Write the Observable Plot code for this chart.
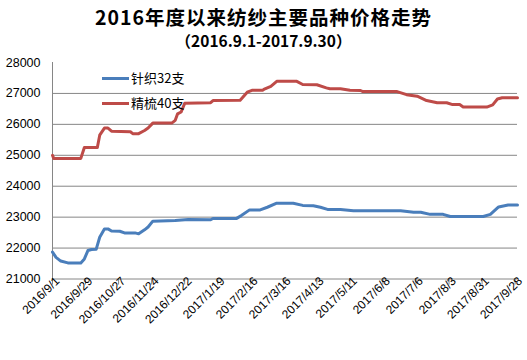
<!DOCTYPE html>
<html>
<head>
<meta charset="utf-8">
<script src="https://cdn.jsdelivr.net/npm/d3@7"></script>
<script src="https://cdn.jsdelivr.net/npm/@observablehq/plot@0.6"></script>
<style>
  body { margin: 0; background: #fff; }
  #wrap { width: 527px; height: 360px; background: #fff; overflow: hidden; }
  .title { font-family: "Noto Sans CJK SC", sans-serif; font-weight: bold; text-align: center; color: #000; white-space: nowrap; }
  #t1 { font-size: 19.5px; letter-spacing: 1px; line-height: 24px; padding-top: 5px; height: 24px; }
  #t2 { font-size: 15.5px; line-height: 22px; height: 25px; }
</style>
</head>
<body>
<div id="wrap">
  <div class="title" id="t1">2016年度以来纺纱主要品种价格走势</div>
  <div class="title" id="t2">（2016.9.1-2017.9.30）</div>
  <div id="chart"></div>
</div>
<script>
const seriesNames = ["针织32支", "精梳40支"];
const seriesColors = ["#4A7EBB", "#BE4B48"];

const knitDates = ["2016/9/1","2016/9/4","2016/9/8","2016/9/14","2016/9/25","2016/9/28","2016/10/1","2016/10/4","2016/10/8","2016/10/11","2016/10/15","2016/10/18","2016/10/21","2016/10/28","2016/11/1","2016/11/10","2016/11/13","2016/11/18","2016/11/21","2016/11/25","2016/12/14","2016/12/25","2017/1/13","2017/1/15","2017/2/4","2017/2/8","2017/2/15","2017/2/24","2017/3/2","2017/3/10","2017/3/24","2017/4/1","2017/4/10","2017/4/16","2017/4/22","2017/5/3","2017/5/14","2017/6/23","2017/7/4","2017/7/10","2017/7/18","2017/7/29","2017/8/4","2017/9/1","2017/9/7","2017/9/14","2017/9/22","2017/9/30"];
const knitValues = [21870,21700,21580,21520,21520,21650,21920,21955,21960,22350,22620,22620,22550,22545,22490,22490,22460,22590,22680,22870,22890,22925,22915,22955,22960,23050,23235,23235,23320,23450,23450,23380,23370,23320,23250,23245,23210,23210,23160,23160,23090,23090,23020,23020,23090,23330,23390,23390];

const combedDates = ["2016/9/1","2016/9/2","2016/9/25","2016/9/28","2016/10/9","2016/10/11","2016/10/15","2016/10/18","2016/10/21","2016/11/6","2016/11/8","2016/11/13","2016/11/18","2016/11/21","2016/11/25","2016/12/11","2016/12/14","2016/12/16","2016/12/19","2016/12/22","2017/1/13","2017/1/15","2017/2/7","2017/2/13","2017/2/17","2017/2/26","2017/2/28","2017/3/5","2017/3/10","2017/3/27","2017/4/1","2017/4/13","2017/4/21","2017/4/24","2017/5/3","2017/5/11","2017/5/20","2017/5/22","2017/6/20","2017/6/28","2017/7/7","2017/7/15","2017/7/24","2017/8/1","2017/8/6","2017/8/12","2017/8/15","2017/9/4","2017/9/9","2017/9/13","2017/9/17","2017/9/30"];
const combedValues = [25000,24900,24900,25250,25250,25650,25880,25880,25780,25760,25700,25700,25800,25880,26040,26040,26130,26340,26400,26680,26700,26770,26780,27040,27100,27100,27150,27230,27390,27390,27290,27280,27180,27150,27150,27100,27095,27060,27060,26960,26910,26770,26700,26700,26640,26640,26560,26560,26630,26820,26860,26860];

const xTickLabels = ["2016/9/1","2016/9/29","2016/10/27","2016/11/24","2016/12/22","2017/1/19","2017/2/16","2017/3/16","2017/4/13","2017/5/11","2017/6/8","2017/7/6","2017/8/3","2017/8/31","2017/9/28"];
const yTicks = [21000,22000,23000,24000,25000,26000,27000,28000];
const xDomainLabels = ["2016/9/1", "2017/9/30"];

const parse = s => { const [y, m, d] = s.split("/").map(Number); return new Date(Date.UTC(y, m - 1, d)); };
const fmt = d => `${d.getUTCFullYear()}/${d.getUTCMonth() + 1}/${d.getUTCDate()}`;

const rows = [];
knitDates.forEach((d, i) => rows.push({series: seriesNames[0], date: parse(d), value: knitValues[i]}));
combedDates.forEach((d, i) => rows.push({series: seriesNames[1], date: parse(d), value: combedValues[i]}));

const xDomain = xDomainLabels.map(parse);
const xTicks = xTickLabels.map(parse);
const gridVals = yTicks.filter(v => v !== yTicks[0] && v !== yTicks[yTicks.length - 1]);
const axisGray = "#868686";

const chart = Plot.plot({
  width: 527,
  height: 306,
  marginTop: 8,
  marginBottom: 81.5,
  marginLeft: 52,
  marginRight: 10,
  style: {fontFamily: "Liberation Sans, Arial, sans-serif", fontSize: "12px", color: "#000", background: "#fff", overflow: "visible"},
  x: {type: "utc", domain: xDomain},
  y: {type: "linear", domain: [yTicks[0], yTicks[yTicks.length - 1]]},
  color: {domain: seriesNames, range: seriesColors},
  marks: [
    Plot.gridY(gridVals, {stroke: axisGray, strokeOpacity: 1, strokeWidth: 1}),
    Plot.ruleY([yTicks[0]], {stroke: axisGray, strokeWidth: 1}),
    Plot.ruleX([xDomain[0]], {y1: yTicks[0], y2: yTicks[yTicks.length - 1], stroke: axisGray, strokeWidth: 1}),
    Plot.axisY(yTicks, {tickSize: 0, tickPadding: 12, fontSize: 12.5, tickFormat: d => String(d), label: null}),
    Plot.axisX(xTicks, {tickSize: 6, stroke: axisGray, strokeOpacity: 1, tickFormat: () => "", label: null}),
    Plot.axisX(xTicks, {tickSize: 0, tickPadding: 0, dx: 5, dy: 0, tickRotate: -45, fontSize: 12, tickFormat: fmt, label: null}),
    Plot.line(rows, {x: "date", y: "value", z: "series", stroke: "series", strokeWidth: 3, curve: "linear"})
  ]
});

document.getElementById("chart").appendChild(chart);

// legend inside the plot area
const svg = d3.select(chart);
const lg = svg.append("g").attr("font-family", "Noto Sans CJK SC, sans-serif").attr("font-size", 13).attr("text-anchor", "start");
seriesNames.forEach((name, i) => {
  const y = 24.5 + i * 25;
  lg.append("line").attr("x1", 102).attr("x2", 129).attr("y1", y).attr("y2", y)
    .attr("stroke", seriesColors[i]).attr("stroke-width", 3);
  lg.append("text").attr("x", 131).attr("y", y).attr("dy", "0.35em").attr("fill", "#000").text(name);
});
</script>
</body>
</html>
